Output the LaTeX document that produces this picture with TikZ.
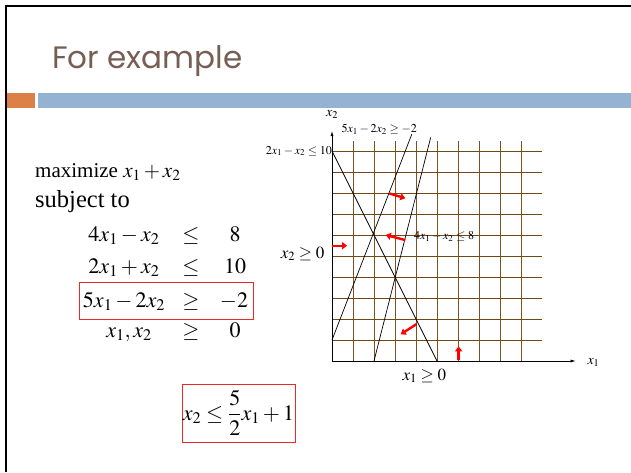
\documentclass[tikz,border=0pt]{standalone}
\usepackage{amsmath}
\usepackage{mathptmx}
\usepackage{fontspec}
\setmainfont{Liberation Serif}
\newfontfamily\titlefont{Poppins}
\usetikzlibrary{arrows.meta, positioning}
\definecolor{titlegray}{RGB}{118, 94, 84}
\definecolor{barorange}{RGB}{221, 128, 71}
\definecolor{barblue}{RGB}{148, 179, 210}
\definecolor{gridtan}{RGB}{125, 82, 28}
\definecolor{griddark}{RGB}{112, 74, 20}
\definecolor{boxred}{RGB}{235, 40, 40}

\tikzset{
  bigtxt/.style={font=\fontsize{22}{26}\selectfont, inner sep=0pt},
  lbl/.style={font=\fontsize{12}{14}\selectfont, inner sep=1pt},
  midlbl/.style={font=\fontsize{17}{20}\selectfont, inner sep=1pt},
  hint/.style={draw=red, line width=2.4pt, -{Triangle[length=5pt, width=7pt]}},
  redbox/.style={draw=boxred, line width=0.9pt}
}

\begin{document}
\begin{tikzpicture}[x=1pt, y=-1pt]
  \useasboundingbox (0,0) rectangle (631,472);

  % slide frame and title
  \draw[line width=2.5pt] (6,472) -- (6,6) -- (631,6);
  \node[anchor=base west, inner sep=0pt, text=titlegray,
        font=\titlefont\fontsize{31}{36}\selectfont] (title) at (52,68) {For example};
  \fill[barorange] (7,93) rectangle (35,108);
  \fill[barblue] (38,93) rectangle (631,108);

  % the problem
  \node[bigtxt, anchor=base west, font=\fontsize{21}{25}\selectfont] (obj) at (35,177) {maximize $x_1+x_2$};
  \node[bigtxt, anchor=base west, font=\fontsize{24.5}{28}\selectfont] (subj) at (35,207) {subject to};
  \node[bigtxt, anchor=base] (l1) at (124,241) {$4x_1-x_2$};
  \node[bigtxt, anchor=base] (g1) at (191,241) {$\le$};
  \node[bigtxt, anchor=base] (r1) at (235,241) {$8$};
  \node[bigtxt, anchor=base] (l2) at (124,273) {$2x_1+x_2$};
  \node[bigtxt, anchor=base] (g2) at (191,273) {$\le$};
  \node[bigtxt, anchor=base] (r2) at (235,273) {$10$};
  \node[bigtxt, anchor=base] (l3) at (124,307) {$5x_1-2x_2$};
  \node[bigtxt, anchor=base] (g3) at (191,307) {$\ge$};
  \node[bigtxt, anchor=base] (r3) at (234,307) {$-2$};
  \node[bigtxt, anchor=base] (l4) at (129,337) {$x_1,x_2$};
  \node[bigtxt, anchor=base] (g4) at (191,337) {$\ge$};
  \node[bigtxt, anchor=base] (r4) at (235,337) {$0$};
  \draw[redbox] (79,282) rectangle (253,319);

  \node[bigtxt, redbox, minimum width=113pt, minimum height=58pt] (newc) at (238.5,413)
    {$x_2\le\dfrac{5}{2}x_1+1$};

  % the graph, one unit = one grid square
  \begin{scope}[shift={(332,361)}, x=21pt, y=21pt]
    \foreach \i in {1,...,9}
      \draw[gridtan, line width=1pt] (\i,0) -- (\i,10.5);
    \foreach \j in {1,...,10}
      \draw[griddark, line width=0.9pt] (0,\j) -- (10,\j);
    \coordinate (o) at (0,0);
    \coordinate (xend) at (11.6,0);
    \coordinate (yend) at (0,10.95);
    \draw[-{Latex[length=5pt, width=3pt]}, line width=0.6pt] (o) -- (xend);
    \draw[-{Latex[length=5pt, width=3pt]}, line width=0.6pt] (o) -- (yend);
    \node[lbl, font=\fontsize{14}{16}\selectfont] (xlbl) at (12.45,-0.05) {$x_1$};
    \node[lbl, font=\fontsize{14}{16}\selectfont] (ylbl) at (0,11.75) {$x_2$};

    % constraint lines
    \draw[line width=0.7pt] (0,10) -- (5,0);
    \draw[line width=0.7pt] (2,0) -- (4.7,10.65);
    \draw[line width=0.7pt] (0,1) -- (3.8,10.8);

    \node[lbl, anchor=east] (c2) at (0.05,10) {$2x_1-x_2\le 10$};
    \node[lbl, anchor=west] (c3) at (0.4,11.05) {$5x_1-2x_2\ge -2$};
    \node[lbl, anchor=west] (c1) at (3.85,5.95) {$4x_1-x_2\le 8$};
    \node[midlbl] (nn2) at (-1.4,5.1) {$x_2\ge 0$};
    \node[midlbl] (nn1) at (4.4,-0.7) {$x_1\ge 0$};

    % feasible sides
    \draw[hint] (2.73,7.98) -- (3.49,7.75);
    \draw[hint] (3.49,5.76) -- (2.56,6.0);
    \draw[hint] (0.01,5.49) -- (0.72,5.49);
    \draw[hint] (4.03,1.76) -- (3.27,1.27);
    \draw[hint] (6.03,0.05) -- (6.03,0.7);
  \end{scope}
\end{tikzpicture}
\end{document}
